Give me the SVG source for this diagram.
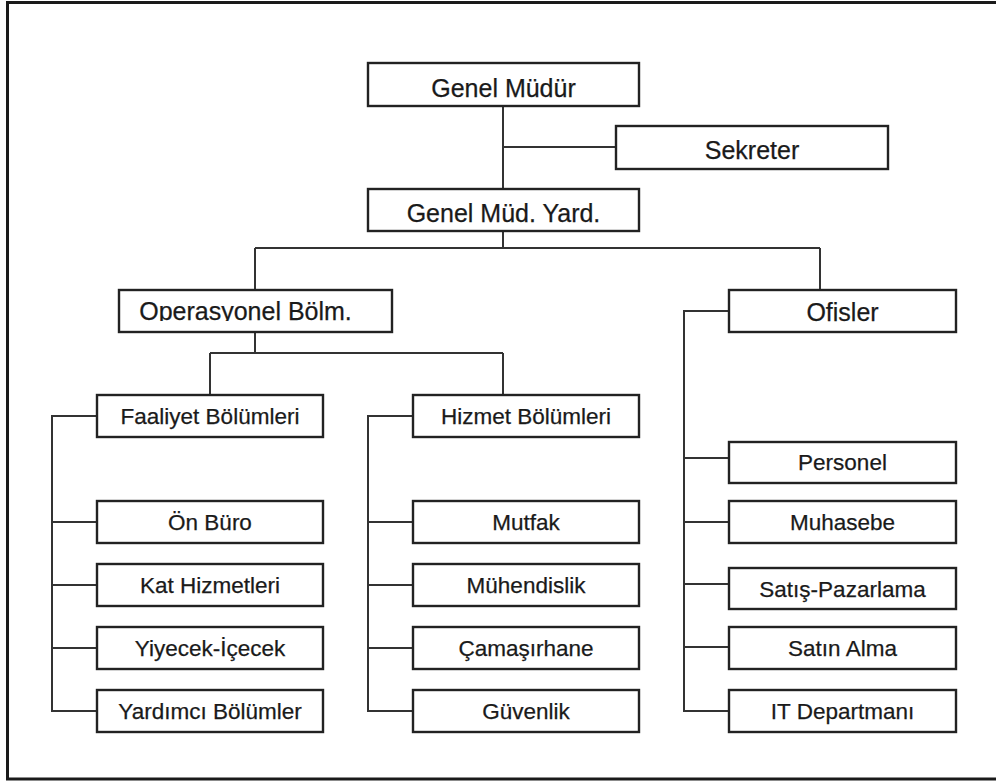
<svg xmlns="http://www.w3.org/2000/svg" width="996" height="784" viewBox="0 0 996 784">
<defs>
<style>
.box{fill:#fff;stroke:#222;stroke-width:2.4}
.t1{font-family:"Liberation Sans",Arial,sans-serif;font-size:25px;fill:#1a1a1a;stroke:#1a1a1a;stroke-width:0.25;text-anchor:middle}
.t2{font-family:"Liberation Sans",Arial,sans-serif;font-size:22.5px;fill:#1a1a1a;stroke:#1a1a1a;stroke-width:0.25;text-anchor:middle}
.ln{fill:none;stroke:#333;stroke-width:2}
</style>
<clipPath id="opsclip"><rect x="119" y="290" width="273" height="31"/></clipPath>
</defs>
<rect width="996" height="784" fill="#fff"/>
<path d="M996,2.5 H7.5 V779 H996" fill="none" stroke="#1a1a1a" stroke-width="3"/>
<g id="connectors" class="ln">
<path d="M503,106 V189 M503,147 H616"/>
<path d="M503,231 V248 M255,248 H820 M255,248 V290 M820,248 V290"/>
<path d="M255,332 V353 M210,353 H503 M210,353 V395 M503,353 V395"/>
<path d="M97,416 H52 V711 H97 M52,522 H97 M52,585 H97 M52,648 H97"/>
<path d="M413,416 H368 V711 H413 M368,522 H413 M368,585 H413 M368,648 H413"/>
<path d="M729,311 H684 V711 H729 M684,458 H729 M684,522 H729 M684,584 H729 M684,647 H729"/>
</g>
<g id="genel-mudur"><rect class="box" x="368" y="63" width="271" height="43"/><text class="t1" x="503.5" y="97">Genel Müdür</text></g>
<g id="sekreter"><rect class="box" x="616" y="126" width="272" height="43"/><text class="t1" x="752" y="159">Sekreter</text></g>
<g id="genel-mud-yard"><rect class="box" x="368" y="189" width="271" height="42"/><text class="t1" x="503.5" y="222">Genel Müd. Yard.</text></g>
<g id="operasyonel"><rect class="box" x="119" y="290" width="273" height="42"/><text class="t1" x="245.5" y="319.5" clip-path="url(#opsclip)">Operasyonel Bölm.</text></g>
<g id="ofisler"><rect class="box" x="729" y="290" width="227" height="42"/><text class="t1" x="842.5" y="321">Ofisler</text></g>
<g id="faaliyet"><rect class="box" x="97" y="395" width="226" height="42"/><text class="t2" x="210" y="424">Faaliyet Bölümleri</text></g>
<g id="hizmet"><rect class="box" x="413" y="395" width="226" height="42"/><text class="t2" x="526" y="424">Hizmet Bölümleri</text></g>
<g id="on-buro"><rect class="box" x="97" y="501" width="226" height="42"/><text class="t2" x="210" y="530">Ön Büro</text></g>
<g id="kat-hizmetleri"><rect class="box" x="97" y="564" width="226" height="42"/><text class="t2" x="210" y="593">Kat Hizmetleri</text></g>
<g id="yiyecek-icecek"><rect class="box" x="97" y="627" width="226" height="42"/><text class="t2" x="210" y="656">Yiyecek-İçecek</text></g>
<g id="yardimci"><rect class="box" x="97" y="690" width="226" height="42"/><text class="t2" x="210" y="719">Yardımcı Bölümler</text></g>
<g id="mutfak"><rect class="box" x="413" y="501" width="226" height="42"/><text class="t2" x="526" y="530">Mutfak</text></g>
<g id="muhendislik"><rect class="box" x="413" y="564" width="226" height="42"/><text class="t2" x="526" y="593">Mühendislik</text></g>
<g id="camasirhane"><rect class="box" x="413" y="627" width="226" height="42"/><text class="t2" x="526" y="656">Çamaşırhane</text></g>
<g id="guvenlik"><rect class="box" x="413" y="690" width="226" height="42"/><text class="t2" x="526" y="719">Güvenlik</text></g>
<g id="personel"><rect class="box" x="729" y="442" width="227" height="41"/><text class="t2" x="842.5" y="470">Personel</text></g>
<g id="muhasebe"><rect class="box" x="729" y="501" width="227" height="42"/><text class="t2" x="842.5" y="530">Muhasebe</text></g>
<g id="satis-pazarlama"><rect class="box" x="729" y="568" width="227" height="41"/><text class="t2" x="842.5" y="597">Satış-Pazarlama</text></g>
<g id="satin-alma"><rect class="box" x="729" y="627" width="227" height="42"/><text class="t2" x="842.5" y="656">Satın Alma</text></g>
<g id="it-departmani"><rect class="box" x="729" y="690" width="227" height="42"/><text class="t2" x="842.5" y="719">IT Departmanı</text></g>
</svg>
